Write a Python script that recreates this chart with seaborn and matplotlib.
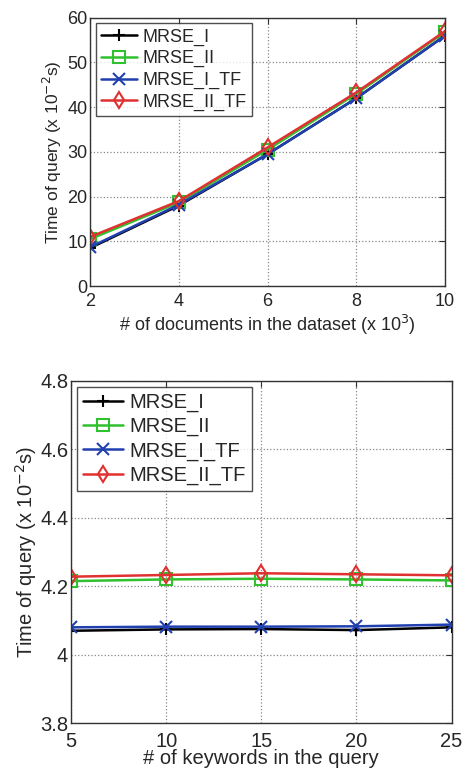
import matplotlib
matplotlib.use("Agg")
import matplotlib.pyplot as plt
import seaborn as sns
import numpy as np

sns.set_style("white")
plt.rcParams['font.family'] = ['Liberation Sans', 'DejaVu Sans']

series_names = ["MRSE_I", "MRSE_II", "MRSE_I_TF", "MRSE_II_TF"]
colors = ["#000000", "#30c030", "#2040b0", "#e03030"]
markers = ["+", "s", "x", "d"]

# Top chart
docs_x = [2, 4, 6, 8, 10]
top_mrse_i = [8.5, 18.0, 29.5, 42.0, 56.0]
top_mrse_ii = [10.5, 18.7, 30.5, 43.0, 56.8]
top_mrse_i_tf = [8.7, 18.2, 29.5, 42.0, 56.0]
top_mrse_ii_tf = [11.0, 19.0, 31.0, 43.3, 57.0]

# Bottom chart
kw_x = [5, 10, 15, 20, 25]
bot_mrse_i = [4.070, 4.074, 4.075, 4.072, 4.080]
bot_mrse_ii = [4.215, 4.220, 4.222, 4.220, 4.217]
bot_mrse_i_tf = [4.080, 4.082, 4.082, 4.083, 4.088]
bot_mrse_ii_tf = [4.228, 4.233, 4.238, 4.235, 4.232]

fig = plt.figure(figsize=(4.67, 7.71), dpi=100)
ax1 = fig.add_axes([0.193, 0.629, 0.760, 0.348])
ax2 = fig.add_axes([0.152, 0.062, 0.815, 0.444])

def draw(ax, x, ys, fs):
    for name, y, c, m in zip(series_names, ys, colors, markers):
        sns.lineplot(x=x, y=y, ax=ax, color=c, marker=m, label=name,
                     markersize=8, markerfacecolor='none', markeredgecolor=c,
                     markeredgewidth=1.5, linewidth=1.8)
    ax.grid(True, linestyle=':', color='#888888', linewidth=0.9)
    ax.tick_params(direction='in', top=True, right=True, labelsize=fs,
                   length=4, color='#333333', pad=2)
    for s in ax.spines.values():
        s.set_color('#333333')
        s.set_linewidth(1.0)
    leg = ax.legend(loc='upper left', fontsize=fs, frameon=True, fancybox=False,
                    edgecolor='#222222', handlelength=2.0, handletextpad=0.3,
                    borderpad=0.3, labelspacing=0.25, borderaxespad=0.3)
    leg.get_frame().set_linewidth(1.0)

draw(ax1, docs_x, [top_mrse_i, top_mrse_ii, top_mrse_i_tf, top_mrse_ii_tf], 13)
ax1.set_xlim(2, 10)
ax1.set_ylim(0, 60)
ax1.set_xticks([2, 4, 6, 8, 10])
ax1.set_yticks([0, 10, 20, 30, 40, 50, 60])
ax1.tick_params(axis='x', pad=5)
ax1.set_xlabel("# of documents in the dataset (x 10$^3$)", fontsize=13, labelpad=2)
ax1.set_ylabel("Time of query (x 10$^{-2}$s)", fontsize=12.5, labelpad=2)

draw(ax2, kw_x, [bot_mrse_i, bot_mrse_ii, bot_mrse_i_tf, bot_mrse_ii_tf], 14.5)
ax2.set_xlim(5, 25)
ax2.set_ylim(3.8, 4.8)
ax2.set_xticks([5, 10, 15, 20, 25])
ax2.set_yticks([3.8, 4.0, 4.2, 4.4, 4.6, 4.8])
ax2.set_yticklabels(["3.8", "4", "4.2", "4.4", "4.6", "4.8"])
ax2.tick_params(axis='x', pad=6)
ax2.set_xlabel("# of keywords in the query", fontsize=14.5, labelpad=-1)
ax2.set_ylabel("Time of query (x 10$^{-2}$s)", fontsize=14.5, labelpad=1)

fig.savefig("out.png", dpi=100)
